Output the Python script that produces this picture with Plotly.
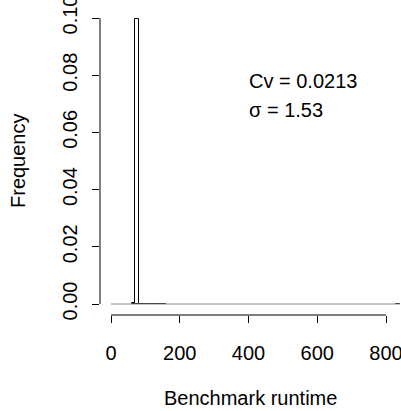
import plotly.graph_objects as go

# Histogram bins (width 10) with non-zero density
bin_width = 10
bin_left = [60, 70, 80, 90, 100, 110, 120, 130, 140, 150, 830]
density = [0.0002, 0.0996, 0.0001, 0.00008, 0.00006, 0.00005, 0.00005, 0.00004, 0.00004, 0.00003, 0.00002]
hist_range = [0, 840]   # full extent of the histogram bins

x_ticks = [0, 200, 400, 600, 800]
y_ticks = [0.00, 0.02, 0.04, 0.06, 0.08, 0.10]
y_tick_labels = ["0.00", "0.02", "0.04", "0.06", "0.08", "0.10"]

stats_lines = ["Cv = 0.0213", "σ = 1.53"]
x_title = "Benchmark runtime"
y_title = "Frequency"

FONT = "Liberation Sans, Arial, Helvetica, sans-serif"

fig = go.Figure()

# zero-height bins drawn as the baseline
fig.add_trace(go.Scatter(
    x=hist_range, y=[0, 0], mode="lines",
    line=dict(color="#8a8a8a", width=1), hoverinfo="skip", showlegend=False))

fig.add_trace(go.Bar(
    x=[b + bin_width / 2 for b in bin_left], y=density, width=bin_width,
    marker=dict(color="white", line=dict(color="black", width=1)),
    showlegend=False))

# R-style detached axis lines
fig.add_shape(type="line", xref="x", yref="paper", x0=x_ticks[0], x1=x_ticks[-1], y0=0, y1=0,
              line=dict(color="black", width=1))
fig.add_shape(type="line", xref="paper", yref="y", x0=0, x1=0, y0=y_ticks[0], y1=y_ticks[-1],
              line=dict(color="black", width=1))

fig.add_annotation(x=396, y=0.0778, xref="x", yref="y", text=stats_lines[0], showarrow=False,
                   xanchor="left", yanchor="middle", font=dict(size=20, family=FONT, color="black"))
fig.add_annotation(x=396, y=0.068, xref="x", yref="y", text=stats_lines[1], showarrow=False,
                   xanchor="left", yanchor="middle", font=dict(size=20, family=FONT, color="black"))

# axis titles
fig.add_annotation(x=0.5, y=-(398 - 315) / 308, xref="paper", yref="paper", text=x_title,
                   showarrow=False, yanchor="middle", xanchor="center",
                   font=dict(size=20, family=FONT, color="black"))
fig.add_annotation(x=-(100 - 18) / 301, y=0.5, xref="paper", yref="paper", text=y_title,
                   showarrow=False, textangle=-90, xanchor="center", yanchor="middle",
                   font=dict(size=20, family=FONT, color="black"))

fig.update_layout(
    width=401, height=411,
    margin=dict(l=100, r=0, t=7, b=96, autoexpand=False),
    paper_bgcolor="white", plot_bgcolor="white",
    font=dict(family=FONT, size=20, color="black"),
    bargap=0,
    xaxis=dict(range=[-32, 843.6], showgrid=False, zeroline=False, showline=False,
               tickmode="array", tickvals=x_ticks, ticks="outside", ticklen=7,
               tickcolor="black", tickwidth=1, tickfont=dict(size=20, family=FONT),
               ticklabelstandoff=13, ticklabeloverflow="allow"),
    yaxis=dict(range=[-0.003846, 0.103846], showgrid=False, zeroline=False, showline=False,
               tickmode="array", tickvals=y_ticks, ticktext=y_tick_labels, ticks="outside",
               ticklen=7, tickcolor="black", tickwidth=1, tickangle=-90,
               tickfont=dict(size=20, family=FONT), ticklabelstandoff=7,
               ticklabeloverflow="allow"),
)

fig.write_html("out.html", config={"displayModeBar": False},
               post_script="document.body.style.margin='0';document.body.style.overflow='hidden';")
